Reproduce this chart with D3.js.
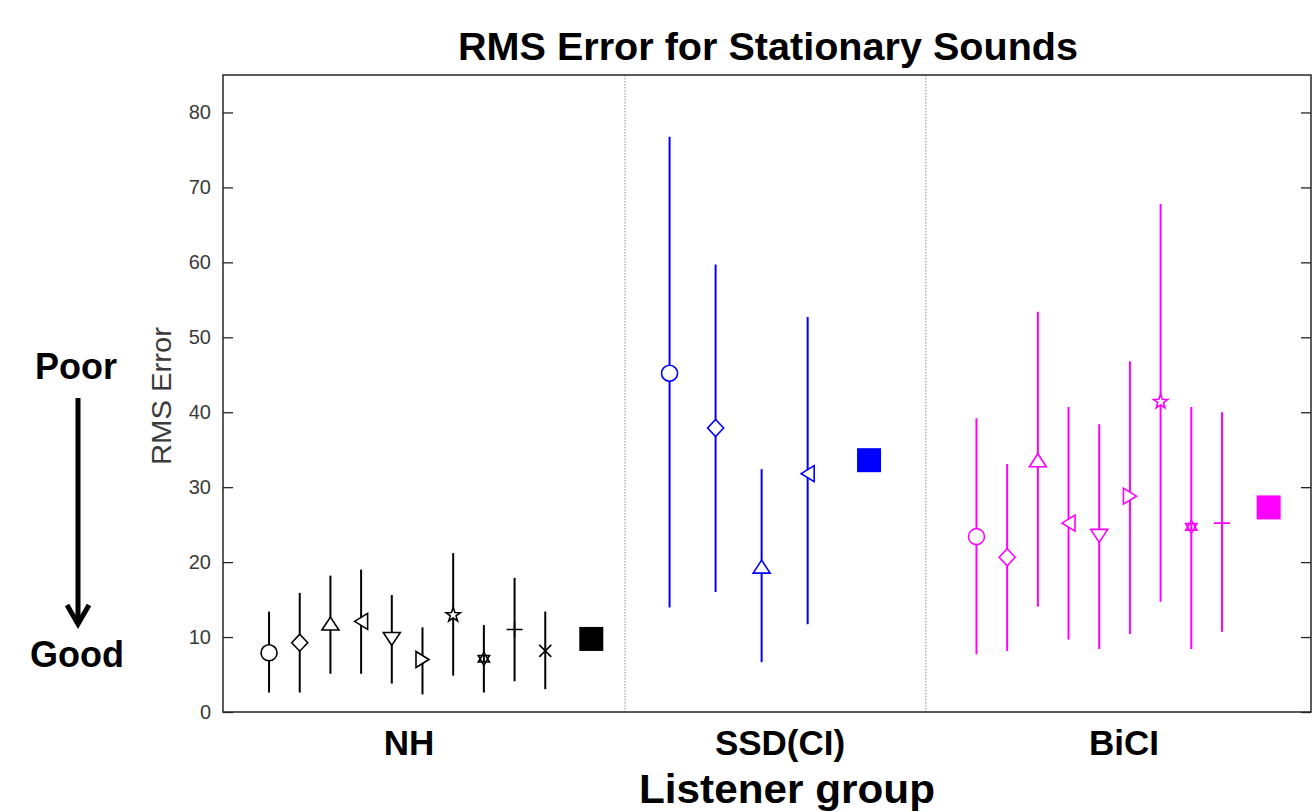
<!DOCTYPE html>
<html>
<head>
<meta charset="utf-8">
<script src="https://cdn.jsdelivr.net/npm/d3@7"></script>
<style>
  body { margin: 0; background: #fff; }
  text { font-family: "Liberation Sans", Arial, Helvetica, sans-serif; }
</style>
</head>
<body>
<script>
// data
const groups = ["NH", "SSD(CI)", "BiCI"];
const markers = ["o", "d", "^", "<", "v", ">", "p", "h", "+", "x"];

const nhMean = [7.9, 9.25, 11.8, 12.1, 9.75, 7.0, 12.95, 7.1, 11.0, 8.15];
const nhLow  = [2.6, 2.6, 5.1, 5.1, 3.8, 2.35, 4.85, 2.6, 4.1, 3.05];
const nhHigh = [13.4, 15.9, 18.2, 19.0, 15.6, 11.3, 21.2, 11.6, 17.9, 13.4];

const ssdMean = [45.2, 37.9, 19.4, 31.8];
const ssdLow  = [13.95, 16.0, 6.65, 11.7];
const ssdHigh = [76.75, 59.7, 32.4, 52.7];

const biMean = [23.4, 20.65, 33.6, 25.2, 23.5, 28.8, 41.4, 24.7, 25.2];
const biLow  = [7.7, 8.15, 14.05, 9.65, 8.4, 10.4, 14.7, 8.4, 10.7];
const biHigh = [39.2, 33.1, 53.4, 40.7, 38.4, 46.8, 67.8, 40.7, 40.0];

const groupMeans = [9.75, 33.6, 27.3];
const yTicks = [0, 10, 20, 30, 40, 50, 60, 70, 80];

const colors = ["#000000", "#0000ff", "#ff00ff"];

// layout along the x axis (axis units)
const groupStart = [1.5, 14.55, 24.55],
      groupStep = [1, 1.5, 1],
      meanX = [12, 21.05, 34.07],
      dividerX = [13.1, 22.9],
      labelX = [6.06, 18.15, 29.36];

const margin = {top: 75, right: 3, bottom: 100, left: 223},
    width = 1314 - margin.left - margin.right,
    height = 812 - margin.top - margin.bottom;

const svg = d3.select("body")
  .append("svg")
    .attr("width", 1314)
    .attr("height", 812);

const g = svg.append("g")
    .attr("transform", "translate(" + margin.left + "," + margin.top + ")");

const x = d3.scaleLinear().domain([0, 35.45]).range([0, width]);
const y = d3.scaleLinear().domain([0, 85]).range([height, 0]);

// group dividers
g.selectAll(".divider")
  .data(dividerX)
  .enter()
  .append("line")
    .attr("x1", d => x(d)).attr("x2", d => x(d))
    .attr("y1", 0).attr("y2", height)
    .attr("stroke", "#8a8a8a")
    .attr("stroke-width", 1)
    .attr("stroke-dasharray", "1.5,1.5");

// axes (ticks point inward like matlab)
const yAxis = g.append("g")
    .call(d3.axisLeft(y).tickValues(yTicks).tickSize(-10).tickPadding(12).tickSizeOuter(0));
yAxis.select(".domain").remove();
yAxis.selectAll("line").attr("stroke", "#262626").attr("stroke-width", 1.3);
yAxis.selectAll("text")
    .attr("font-size", "20px")
    .attr("fill", "#3a3a3a")
    .style("font-family", "'Liberation Sans', Arial, sans-serif");

const yAxisR = g.append("g")
    .attr("transform", "translate(" + width + ",0)")
    .call(d3.axisRight(y).tickValues(yTicks).tickSize(-10).tickFormat("").tickSizeOuter(0));
yAxisR.select(".domain").remove();
yAxisR.selectAll("line").attr("stroke", "#262626").attr("stroke-width", 1.3);

g.append("rect")
    .attr("width", width).attr("height", height)
    .attr("fill", "none")
    .attr("stroke", "#262626")
    .attr("stroke-width", 1.5);

// marker shapes
function starPath(n, ro, ri) {
  const pts = [];
  for (let i = 0; i < 2 * n; i++) {
    const a = -Math.PI / 2 + i * Math.PI / n;
    const r = i % 2 === 0 ? ro : ri;
    pts.push([r * Math.cos(a), r * Math.sin(a)]);
  }
  return "M" + pts.map(p => p.join(",")).join("L") + "Z";
}
function hexagram(r) {
  const t = a => [r * Math.cos(a), r * Math.sin(a)];
  const up = [t(-Math.PI / 2), t(Math.PI / 6), t(5 * Math.PI / 6)];
  const dn = [t(Math.PI / 2), t(-Math.PI / 6), t(-5 * Math.PI / 6)];
  return "M" + up.map(p => p.join(",")).join("L") + "Z" +
         "M" + dn.map(p => p.join(",")).join("L") + "Z";
}
const shapes = {
  "o": "M8,0A8,8 0 1,1 -8,0A8,8 0 1,1 8,0Z",
  "d": "M0,-8.5L8,0L0,8.5L-8,0Z",
  "^": "M0,-6.5L8.5,6.5L-8.5,6.5Z",
  "v": "M0,6.5L8.5,-6.5L-8.5,-6.5Z",
  "<": "M-6.5,0L6.5,-8L6.5,8Z",
  ">": "M6.5,0L-6.5,-8L-6.5,8Z",
  "p": starPath(5, 7.5, 3),
  "h": hexagram(6.5),
  "+": "M-8,0L8,0M0,-8L0,8",
  "x": "M-6,-6L6,6M-6,6L6,-6"
};

const series = [
  {mean: nhMean, low: nhLow, high: nhHigh},
  {mean: ssdMean, low: ssdLow, high: ssdHigh},
  {mean: biMean, low: biLow, high: biHigh}
];

series.forEach(function(s, gi) {
  const pts = s.mean.map((m, i) => ({
    xv: groupStart[gi] + i * groupStep[gi], m: m, lo: s.low[i], hi: s.high[i], mk: markers[i]
  }));
  const grp = g.append("g");

  // error bars
  grp.selectAll(".bar")
    .data(pts)
    .enter()
    .append("line")
      .attr("x1", d => x(d.xv)).attr("x2", d => x(d.xv))
      .attr("y1", d => y(d.lo)).attr("y2", d => y(d.hi))
      .attr("stroke", colors[gi])
      .attr("stroke-width", 2);

  // markers
  grp.selectAll(".mk")
    .data(pts)
    .enter()
    .append("path")
      .attr("transform", d => "translate(" + x(d.xv) + "," + y(d.m) + ")")
      .attr("d", d => shapes[d.mk])
      .attr("fill", d => (d.mk === "+" || d.mk === "x") ? "none" : "#fff")
      .attr("stroke", colors[gi])
      .attr("stroke-width", 1.6);

  // group mean square
  grp.append("rect")
    .attr("x", x(meanX[gi]) - 12)
    .attr("y", y(groupMeans[gi]) - 12)
    .attr("width", 24).attr("height", 24)
    .attr("fill", colors[gi]);
});

// group labels
g.selectAll(".glabel")
  .data(groups)
  .enter()
  .append("text")
    .attr("x", (d, i) => x(labelX[i]))
    .attr("y", height + 43)
    .attr("text-anchor", "middle")
    .attr("font-size", "35px")
    .attr("font-weight", "bold")
    .text(d => d);

// axis labels and title
svg.append("text")
    .attr("x", 787).attr("y", 803)
    .attr("text-anchor", "middle")
    .attr("font-size", "40px")
    .attr("font-weight", "bold")
    .attr("textLength", 296)
    .attr("lengthAdjust", "spacingAndGlyphs")
    .text("Listener group");

svg.append("text")
    .attr("transform", "translate(171,396) rotate(-90)")
    .attr("text-anchor", "middle")
    .attr("font-size", "28px")
    .attr("fill", "#3a3a3a")
    .attr("textLength", 138)
    .attr("lengthAdjust", "spacingAndGlyphs")
    .text("RMS Error");

svg.append("text")
    .attr("x", 768).attr("y", 60)
    .attr("text-anchor", "middle")
    .attr("font-size", "39px")
    .attr("font-weight", "bold")
    .attr("textLength", 620)
    .attr("lengthAdjust", "spacingAndGlyphs")
    .text("RMS Error for Stationary Sounds");

// poor / good annotation
svg.append("text")
    .attr("x", 76).attr("y", 379)
    .attr("text-anchor", "middle")
    .attr("font-size", "36px")
    .attr("font-weight", "bold")
    .text("Poor");

svg.append("text")
    .attr("x", 77).attr("y", 667)
    .attr("text-anchor", "middle")
    .attr("font-size", "36px")
    .attr("font-weight", "bold")
    .text("Good");

svg.append("line")
    .attr("x1", 78).attr("x2", 78)
    .attr("y1", 398).attr("y2", 624)
    .attr("stroke", "#000")
    .attr("stroke-width", 5);

svg.append("path")
    .attr("d", "M67,605L78,624L89,605")
    .attr("fill", "none")
    .attr("stroke", "#000")
    .attr("stroke-width", 5);
</script>
</body>
</html>
